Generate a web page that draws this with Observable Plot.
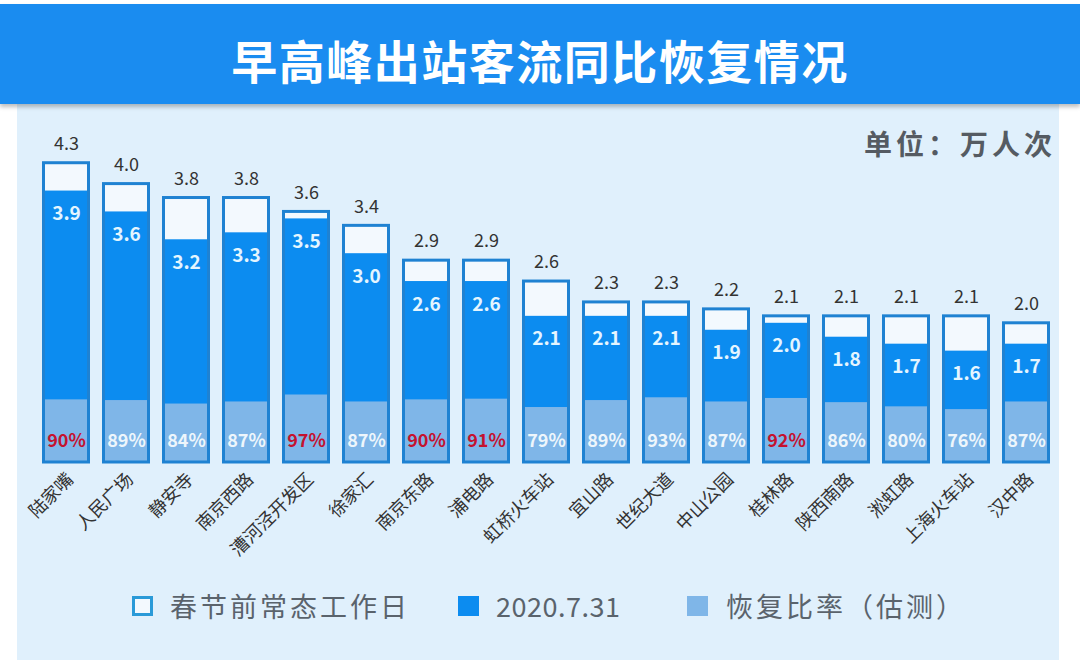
<!DOCTYPE html>
<html>
<head>
<meta charset="utf-8">
<script src="https://cdn.jsdelivr.net/npm/d3@7"></script>
<script src="https://cdn.jsdelivr.net/npm/@observablehq/plot@0.6"></script>
<style>
  html, body { margin: 0; padding: 0; background: #ffffff; }
  body { width: 1080px; height: 666px; position: relative; overflow: hidden; font-family: "Noto Sans CJK SC", "Noto Sans", sans-serif; }
  #banner { position: absolute; left: 0; top: 4px; width: 1080px; height: 100px; background: #1a8cf0; box-shadow: 0 3px 4px rgba(0,0,0,0.25); z-index: 2; }
  #title { position: absolute; left: 0; width: 1080px; top: 9px; height: 100px; line-height: 100px; text-align: center; color: #ffffff; font-size: 46px; font-weight: bold; letter-spacing: 1.5px; z-index: 3; }
  #panel { position: absolute; left: 17px; top: 104px; width: 1042px; height: 556px; background: #e0f0fc; }
  #unit { position: absolute; right: 24px; top: 123px; font-size: 28px; font-weight: bold; color: #555b62; letter-spacing: 4px; z-index: 4; }
  #chart { position: absolute; left: 0; top: 105px; z-index: 1; }
  #legend { position: absolute; left: 0; top: 588px; width: 1080px; height: 36px; z-index: 4; }
  .sw { position: absolute; top: 8px; width: 21px; height: 20px; box-sizing: border-box; }
  .lt { position: absolute; top: 0; font-size: 27px; line-height: 36px; color: #5a636c; letter-spacing: 3px; white-space: nowrap; }
</style>
</head>
<body>
<div id="banner"></div>
<div id="title"></div>
<div id="panel"></div>
<div id="unit"></div>
<div id="chart"></div>
<div id="legend"></div>
<script>
// ---- data ----
const titleText = "早高峰出站客流同比恢复情况";
const unitText = "单位：万人次";
const stations = ["陆家嘴","人民广场","静安寺","南京西路","漕河泾开发区","徐家汇","南京东路","浦电路","虹桥火车站","宜山路","世纪大道","中山公园","桂林路","陕西南路","淞虹路","上海火车站","汉中路"];
const beforeHoliday = [4.3,4.0,3.8,3.8,3.6,3.4,2.9,2.9,2.6,2.3,2.3,2.2,2.1,2.1,2.1,2.1,2.0];
const day20200731 = [3.9,3.6,3.2,3.3,3.5,3.0,2.6,2.6,2.1,2.1,2.1,1.9,2.0,1.8,1.7,1.6,1.7];
const recoveryPct = [90,89,84,87,97,87,90,91,79,89,93,87,92,86,80,76,87];
const highlighted = [true,false,false,false,true,false,true,true,false,false,false,false,true,false,false,false,false];
const seriesNames = ["春节前常态工作日","2020.7.31","恢复比率（估测）"];

// ---- build table ----
const data = stations.map((s, i) => ({
  station: s,
  before: beforeHoliday[i],
  current: day20200731[i],
  ratio: recoveryPct[i] / 100,
  pct: recoveryPct[i],
  hi: highlighted[i]
}));

document.getElementById("title").textContent = titleText;
document.getElementById("unit").textContent = unitText;

const C_OUT = "#1f82d2", C_IN = "#f3f9fe", C_CUR = "#0c8cf0", C_RAT = "#7fb6e8";
const inset = {insetLeft: 1.5, insetRight: 1.5};
const font = "Noto Sans CJK SC";

const chart = Plot.plot({
  width: 1080,
  height: 480,
  marginLeft: 27.9,
  marginRight: 16.7,
  marginTop: 9,
  marginBottom: 123,
  x: {domain: stations, padding: 0.2, axis: null},
  y: {domain: [0, 5], axis: null},
  style: {background: "transparent", fontFamily: font, overflow: "visible"},
  marks: [
    Plot.barY(data, {x: "station", y: "before", fill: C_IN, ...inset}),
    Plot.barY(data, {x: "station", y: "current", fill: C_CUR, ...inset}),
    Plot.barY(data, {x: "station", y: "ratio", fill: C_RAT, ...inset}),
    Plot.barY(data, {x: "station", y: "before", fill: "none", stroke: C_OUT, strokeWidth: 3, ...inset}),
    Plot.text(data, {x: "station", y: "before", text: d => d.before.toFixed(1), dy: -19, fontSize: 18, fill: "#333333"}),
    Plot.text(data, {x: "station", y: "current", text: d => d.current.toFixed(1), dy: 23, fontSize: 19, fontWeight: "bold", fill: "#e4f5ff"}),
    Plot.text(data, {x: "station", y: 0, text: d => d.pct + "%", dy: -21, fontSize: 18, fontWeight: "bold", fill: d => d.hi ? "#c4122f" : "#eef6fc"}),
    Plot.text(data, {x: "station", y: 0, text: "station", rotate: -45, textAnchor: "end", dx: 4, dy: 14, fontSize: 18, fill: "#333333"})
  ]
});
document.getElementById("chart").appendChild(chart);

// legend
const legend = document.getElementById("legend");
const items = [
  {sx: 132, tx: 170, ls: 3, style: `border: 3px solid #2a9ad8; background: #f3f9fe;`},
  {sx: 458, tx: 496, ls: 0.5, style: `background: ${C_CUR};`},
  {sx: 687, tx: 726, ls: 3, style: `background: ${C_RAT};`}
];
items.forEach((it, i) => {
  const sw = document.createElement("div");
  sw.className = "sw";
  sw.style.cssText = `left:${it.sx}px;` + it.style;
  legend.appendChild(sw);
  const t = document.createElement("div");
  t.className = "lt";
  t.style.left = it.tx + "px";
  t.style.letterSpacing = it.ls + "px";
  t.textContent = seriesNames[i];
  legend.appendChild(t);
});
</script>
</body>
</html>
